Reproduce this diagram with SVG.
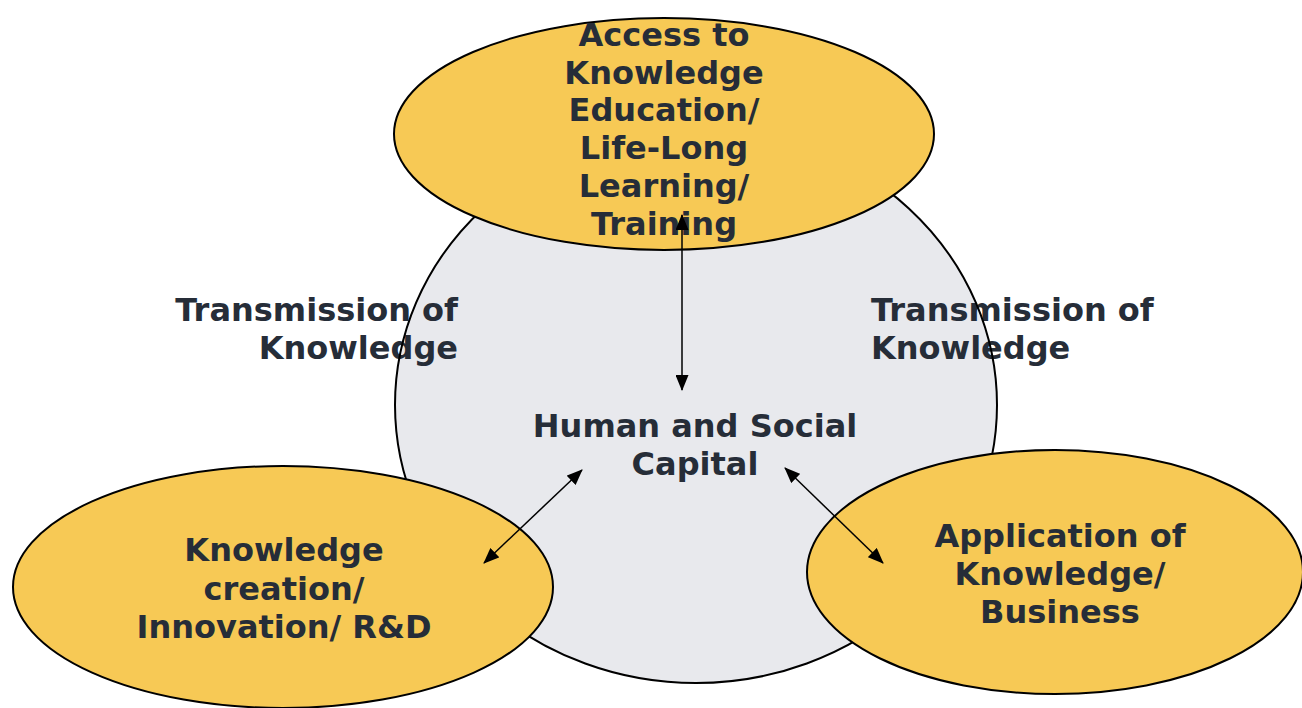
<svg xmlns="http://www.w3.org/2000/svg" width="1302" height="708" viewBox="0 0 1302 708">
<defs>
<style>
.t{font-family:"DejaVu Sans","Liberation Sans",sans-serif;font-weight:bold;font-size:32px;fill:#262d38}
.m{text-anchor:middle}
.y{fill:#f7c955;stroke:#000;stroke-width:2}
.c{stroke:#000;stroke-width:1.5;fill:none;marker-start:url(#a);marker-end:url(#a)}
</style>
<marker id="a" viewBox="0 0 16 13" refX="15" refY="6.5" markerWidth="16" markerHeight="13" markerUnits="userSpaceOnUse" orient="auto-start-reverse">
<path d="M0,0 L16,6.5 L0,13 Z" fill="#000"/>
</marker>
</defs>
<rect width="1302" height="708" fill="#fff"/>
<g id="hub">
<ellipse cx="696" cy="405" rx="301" ry="278" fill="#e8e9ed"/>
<g id="transmission-left"><text class="t" text-anchor="end" x="458" y="321">Transmission of</text><text class="t" text-anchor="end" x="458" y="359">Knowledge</text></g>
<g id="transmission-right"><text class="t" x="871" y="321">Transmission of</text><text class="t" x="871" y="359">Knowledge</text></g>
<ellipse cx="696" cy="405" rx="301" ry="278" fill="none" stroke="#000" stroke-width="2"/>
<text class="t m" x="695" y="437">Human and Social</text>
<text class="t m" x="695" y="475">Capital</text>
</g>
<g id="access">
<ellipse class="y" cx="664" cy="134" rx="270" ry="116"/>
<text class="t m" x="664" y="46">Access to</text>
<text class="t m" x="664" y="84">Knowledge</text>
<text class="t m" x="664" y="121">Education/</text>
<text class="t m" x="664" y="159">Life-Long</text>
<text class="t m" x="664" y="197">Learning/</text>
<text class="t m" x="664" y="235">Training</text>
</g>
<g id="creation">
<ellipse class="y" cx="283" cy="587" rx="270" ry="121"/>
<text class="t m" x="284" y="561">Knowledge</text>
<text class="t m" x="284" y="600">creation/</text>
<text class="t m" x="284" y="638">Innovation/ R&amp;D</text>
</g>
<g id="application">
<ellipse class="y" cx="1055" cy="572" rx="248" ry="122"/>
<text class="t m" x="1060" y="547">Application of</text>
<text class="t m" x="1060" y="585">Knowledge/</text>
<text class="t m" x="1060" y="623">Business</text>
</g>
<g id="connectors">
<line class="c" x1="682" y1="215" x2="682" y2="390"/>
<line class="c" x1="582" y1="470" x2="484" y2="563"/>
<line class="c" x1="785" y1="468" x2="883" y2="563"/>
</g>
</svg>
